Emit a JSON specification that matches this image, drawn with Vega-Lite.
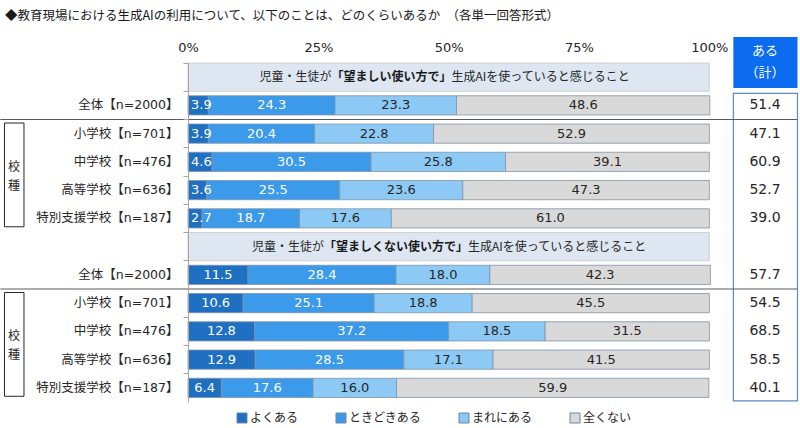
{
  "$schema": "https://vega.github.io/schema/vega-lite/v6.json",
  "width": 610,
  "height": 339,
  "autosize": "none",
  "padding": {"left": 188, "top": 63, "right": 2, "bottom": 26},
  "background": "white",
  "config": {"view": {"stroke": null}, "font": "Noto Sans CJK JP"},
  "title": {
    "text": "◆教育現場における生成AIの利用について、以下のことは、どのくらいあるか　（各単一回答形式）",
    "anchor": "start", "frame": "group", "dx": -183, "offset": 15,
    "fontSize": 12.5, "font": "Noto Sans CJK JP", "fontWeight": "normal", "color": "#1a1a1a"
  },
  "datasets": {
    "segs": [
      {"row": "A1|全体【n=2000】", "cat": "よくある", "k": 1, "value": 3.9},
      {"row": "A1|全体【n=2000】", "cat": "ときどきある", "k": 2, "value": 24.3},
      {"row": "A1|全体【n=2000】", "cat": "まれにある", "k": 3, "value": 23.3},
      {"row": "A1|全体【n=2000】", "cat": "全くない", "k": 4, "value": 48.6},
      {"row": "B1|小学校【n=701】", "cat": "よくある", "k": 1, "value": 3.9},
      {"row": "B1|小学校【n=701】", "cat": "ときどきある", "k": 2, "value": 20.4},
      {"row": "B1|小学校【n=701】", "cat": "まれにある", "k": 3, "value": 22.8},
      {"row": "B1|小学校【n=701】", "cat": "全くない", "k": 4, "value": 52.9},
      {"row": "C1|中学校【n=476】", "cat": "よくある", "k": 1, "value": 4.6},
      {"row": "C1|中学校【n=476】", "cat": "ときどきある", "k": 2, "value": 30.5},
      {"row": "C1|中学校【n=476】", "cat": "まれにある", "k": 3, "value": 25.8},
      {"row": "C1|中学校【n=476】", "cat": "全くない", "k": 4, "value": 39.1},
      {"row": "D1|高等学校【n=636】", "cat": "よくある", "k": 1, "value": 3.6},
      {"row": "D1|高等学校【n=636】", "cat": "ときどきある", "k": 2, "value": 25.5},
      {"row": "D1|高等学校【n=636】", "cat": "まれにある", "k": 3, "value": 23.6},
      {"row": "D1|高等学校【n=636】", "cat": "全くない", "k": 4, "value": 47.3},
      {"row": "E1|特別支援学校【n=187】", "cat": "よくある", "k": 1, "value": 2.7},
      {"row": "E1|特別支援学校【n=187】", "cat": "ときどきある", "k": 2, "value": 18.7},
      {"row": "E1|特別支援学校【n=187】", "cat": "まれにある", "k": 3, "value": 17.6},
      {"row": "E1|特別支援学校【n=187】", "cat": "全くない", "k": 4, "value": 61.0},
      {"row": "A2|全体【n=2000】", "cat": "よくある", "k": 1, "value": 11.5},
      {"row": "A2|全体【n=2000】", "cat": "ときどきある", "k": 2, "value": 28.4},
      {"row": "A2|全体【n=2000】", "cat": "まれにある", "k": 3, "value": 18.0},
      {"row": "A2|全体【n=2000】", "cat": "全くない", "k": 4, "value": 42.3},
      {"row": "B2|小学校【n=701】", "cat": "よくある", "k": 1, "value": 10.6},
      {"row": "B2|小学校【n=701】", "cat": "ときどきある", "k": 2, "value": 25.1},
      {"row": "B2|小学校【n=701】", "cat": "まれにある", "k": 3, "value": 18.8},
      {"row": "B2|小学校【n=701】", "cat": "全くない", "k": 4, "value": 45.5},
      {"row": "C2|中学校【n=476】", "cat": "よくある", "k": 1, "value": 12.8},
      {"row": "C2|中学校【n=476】", "cat": "ときどきある", "k": 2, "value": 37.2},
      {"row": "C2|中学校【n=476】", "cat": "まれにある", "k": 3, "value": 18.5},
      {"row": "C2|中学校【n=476】", "cat": "全くない", "k": 4, "value": 31.5},
      {"row": "D2|高等学校【n=636】", "cat": "よくある", "k": 1, "value": 12.9},
      {"row": "D2|高等学校【n=636】", "cat": "ときどきある", "k": 2, "value": 28.5},
      {"row": "D2|高等学校【n=636】", "cat": "まれにある", "k": 3, "value": 17.1},
      {"row": "D2|高等学校【n=636】", "cat": "全くない", "k": 4, "value": 41.5},
      {"row": "E2|特別支援学校【n=187】", "cat": "よくある", "k": 1, "value": 6.4},
      {"row": "E2|特別支援学校【n=187】", "cat": "ときどきある", "k": 2, "value": 17.6},
      {"row": "E2|特別支援学校【n=187】", "cat": "まれにある", "k": 3, "value": 16.0},
      {"row": "E2|特別支援学校【n=187】", "cat": "全くない", "k": 4, "value": 59.9}
    ],
    "totals": [
      {"row": "A1|全体【n=2000】", "total": 51.4},
      {"row": "B1|小学校【n=701】", "total": 47.1},
      {"row": "C1|中学校【n=476】", "total": 60.9},
      {"row": "D1|高等学校【n=636】", "total": 52.7},
      {"row": "E1|特別支援学校【n=187】", "total": 39.0},
      {"row": "A2|全体【n=2000】", "total": 57.7},
      {"row": "B2|小学校【n=701】", "total": 54.5},
      {"row": "C2|中学校【n=476】", "total": 68.5},
      {"row": "D2|高等学校【n=636】", "total": 58.5},
      {"row": "E2|特別支援学校【n=187】", "total": 40.1}
    ]
  },
  "encoding": {
    "y": {
      "field": "row", "type": "nominal", "title": null,
      "scale": {
        "domain": ["H1|", "A1|全体【n=2000】", "B1|小学校【n=701】", "C1|中学校【n=476】", "D1|高等学校【n=636】", "E1|特別支援学校【n=187】", "H2|", "A2|全体【n=2000】", "B2|小学校【n=701】", "C2|中学校【n=476】", "D2|高等学校【n=636】", "E2|特別支援学校【n=187】"],
        "paddingInner": 0, "paddingOuter": 0
      },
      "axis": {
        "labelExpr": "split(datum.value, '|')[1]",
        "bandPosition": 0, "tickSize": 5, "tickColor": "#a6a6a6", "domainColor": "#a6a6a6",
        "labelPadding": 5, "labelFontSize": 12.5, "labelFont": "DejaVu Sans, Noto Sans CJK JP",
        "labelColor": "#262626", "labelLimit": 300, "grid": false
      }
    }
  },
  "layer": [
    {
      "data": {"values": [{"row": "H1|"}, {"row": "H2|"}]},
      "mark": {"type": "rect", "fill": "#dde6f1", "stroke": "#c9c9c9", "strokeWidth": 0.8},
      "encoding": {
        "x": {"datum": 0, "type": "quantitative", "title": null, "scale": {"domain": [0, 117], "nice": false, "zero": false}},
        "x2": {"datum": 100}
      }
    },
    {
      "data": {"values": [{"row": "A1|全体【n=2000】", "row2": "E2|特別支援学校【n=187】"}]},
      "mark": {"type": "rect", "fill": "white", "stroke": "#5b8ac5", "strokeWidth": 1.2, "yOffset": -12.1, "y2Offset": 12.9},
      "encoding": {
        "x": {"datum": 104.6, "type": "quantitative", "title": null, "scale": {"domain": [0, 117], "nice": false, "zero": false}},
        "x2": {"datum": 116.9},
        "y2": {"field": "row2"}
      }
    },
    {
      "data": {"values": [{"row": "H1|", "row2": "H1|"}]},
      "mark": {"type": "rect", "fill": "#0b6cf0", "yOffset": -40.1, "y2Offset": 10.9},
      "encoding": {
        "x": {"datum": 104.6, "type": "quantitative", "title": null, "scale": {"domain": [0, 117], "nice": false, "zero": false}},
        "x2": {"datum": 116.9},
        "y2": {"field": "row2"}
      }
    },
    {
      "data": {"name": "segs"},
      "mark": {"type": "bar", "height": {"band": 0.68}, "stroke": "#7f93aa", "strokeWidth": 0.8},
      "encoding": {
        "x": {
          "field": "value", "type": "quantitative", "stack": "zero", "title": null,
          "scale": {"domain": [0, 117], "nice": false, "zero": false},
          "axis": {"orient": "top", "values": [0, 25, 50, 75, 100], "labelExpr": "datum.value + '%'", "domain": false, "ticks": false, "grid": false, "labelPadding": 9, "labelFontSize": 13, "labelFont": "DejaVu Sans", "labelColor": "#262626", "labelFlush": false}
        },
        "color": {
          "field": "cat", "type": "nominal",
          "scale": {"domain": ["よくある", "ときどきある", "まれにある", "全くない"], "range": ["#1f6fc2", "#3b9ae9", "#8ccaf5", "#d9d9d9"]},
          "legend": {"orient": "none", "legendX": 48, "legendY": 349, "direction": "horizontal", "columns": 4, "columnPadding": 35, "title": null, "symbolType": "square", "symbolSize": 100, "labelFontSize": 12, "labelFont": "Noto Sans CJK JP", "labelColor": "#262626", "labelOffset": 2, "symbolStrokeWidth": 1, "symbolStrokeColor": "#6f86a3"}
        },
        "order": {"field": "k", "type": "quantitative"}
      }
    },
    {
      "data": {"name": "segs"},
      "mark": {"type": "text", "font": "DejaVu Sans", "fontSize": 13, "baseline": "middle"},
      "encoding": {
        "x": {"field": "value", "type": "quantitative", "stack": "zero", "bandPosition": 0.5, "title": null, "scale": {"domain": [0, 117], "nice": false, "zero": false}},
        "detail": {"field": "cat"},
        "order": {"field": "k", "type": "quantitative"},
        "text": {"field": "value", "type": "quantitative", "format": ".1f", "condition": {"test": "datum.k == 1 && datum.value < 5", "value": ""}},
        "color": {"condition": {"test": "datum.k <= 2", "value": "#ffffff"}, "value": "#262626"}
      }
    },
    {
      "data": {"name": "segs"},
      "mark": {"type": "text", "font": "DejaVu Sans", "fontSize": 13, "baseline": "middle", "align": "left", "dx": 3, "color": "#ffffff"},
      "encoding": {
        "x": {"field": "value", "type": "quantitative", "stack": "zero", "bandPosition": 0, "title": null, "scale": {"domain": [0, 117], "nice": false, "zero": false}},
        "detail": {"field": "cat"},
        "order": {"field": "k", "type": "quantitative"},
        "text": {"condition": {"test": "datum.k == 1 && datum.value < 5", "field": "value", "type": "quantitative", "format": ".1f"}, "value": ""}
      }
    },
    {
      "data": {"name": "totals"},
      "mark": {"type": "text", "font": "DejaVu Sans", "fontSize": 14, "color": "#262626", "baseline": "middle"},
      "encoding": {
        "x": {"datum": 110.67, "type": "quantitative", "title": null, "scale": {"domain": [0, 117], "nice": false, "zero": false}},
        "text": {"field": "total", "type": "quantitative", "format": ".1f"}
      }
    },
    {
      "data": {"values": [{"row": "B1|小学校【n=701】"}, {"row": "B2|小学校【n=701】"}]},
      "mark": {"type": "rule", "color": "#595959", "strokeWidth": 1},
      "encoding": {
        "x": {"datum": -36, "type": "quantitative", "title": null, "scale": {"domain": [0, 117], "nice": false, "zero": false}},
        "x2": {"datum": 116.9},
        "y": {"field": "row", "type": "nominal", "title": null, "bandPosition": 0}
      }
    },
    {
      "data": {"values": [{"row": "B1|小学校【n=701】", "row2": "E1|特別支援学校【n=187】"}, {"row": "B2|小学校【n=701】", "row2": "E2|特別支援学校【n=187】"}]},
      "mark": {"type": "rect", "fill": "transparent", "stroke": "#262626", "strokeWidth": 1, "yOffset": -10.6, "y2Offset": 8.4},
      "encoding": {
        "x": {"datum": -35.2, "type": "quantitative", "title": null, "scale": {"domain": [0, 117], "nice": false, "zero": false}},
        "x2": {"datum": -31.46},
        "y2": {"field": "row2"}
      }
    },
    {
      "data": {"values": [{"row": "D1|高等学校【n=636】", "t": "校"}, {"row": "D2|高等学校【n=636】", "t": "校"}]},
      "mark": {"type": "text", "fontSize": 12, "baseline": "middle", "color": "#262626", "dy": -9.5},
      "encoding": {
        "x": {"datum": -33.37, "type": "quantitative", "title": null, "scale": {"domain": [0, 117], "nice": false, "zero": false}},
        "y": {"field": "row", "type": "nominal", "title": null, "bandPosition": 0},
        "text": {"field": "t"}
      }
    },
    {
      "data": {"values": [{"row": "D1|高等学校【n=636】", "t": "種"}, {"row": "D2|高等学校【n=636】", "t": "種"}]},
      "mark": {"type": "text", "fontSize": 12, "baseline": "middle", "color": "#262626", "dy": 9.5},
      "encoding": {
        "x": {"datum": -33.37, "type": "quantitative", "title": null, "scale": {"domain": [0, 117], "nice": false, "zero": false}},
        "y": {"field": "row", "type": "nominal", "title": null, "bandPosition": 0},
        "text": {"field": "t"}
      }
    },
    {
      "data": {"values": [{"row": "H1|", "t": "ある"}]},
      "mark": {"type": "text", "fontSize": 13, "baseline": "middle", "color": "#ffffff", "dy": -26},
      "encoding": {
        "x": {"datum": 110.67, "type": "quantitative", "title": null, "scale": {"domain": [0, 117], "nice": false, "zero": false}},
        "text": {"field": "t"}
      }
    },
    {
      "data": {"values": [{"row": "H1|", "t": "（計）"}]},
      "mark": {"type": "text", "fontSize": 13, "baseline": "middle", "color": "#ffffff", "dy": -4},
      "encoding": {
        "x": {"datum": 110.67, "type": "quantitative", "title": null, "scale": {"domain": [0, 117], "nice": false, "zero": false}},
        "text": {"field": "t"}
      }
    },
    {
      "data": {"values": [{"row": "H1|", "t": "児童・生徒が"}]},
      "mark": {"type": "text", "fontSize": 12, "align": "right", "baseline": "middle", "color": "#262626"},
      "encoding": {"x": {"datum": 27.52, "type": "quantitative", "title": null, "scale": {"domain": [0, 117], "nice": false, "zero": false}}, "text": {"field": "t"}}
    },
    {
      "data": {"values": [{"row": "H1|", "t": "「望ましい使い方で」"}]},
      "mark": {"type": "text", "fontSize": 12, "fontWeight": "bold", "align": "left", "baseline": "middle", "color": "#1a1a1a"},
      "encoding": {"x": {"datum": 27.52, "type": "quantitative", "title": null, "scale": {"domain": [0, 117], "nice": false, "zero": false}}, "text": {"field": "t"}}
    },
    {
      "data": {"values": [{"row": "H1|", "t": "生成AIを使っていると感じること"}]},
      "mark": {"type": "text", "fontSize": 12, "align": "left", "baseline": "middle", "color": "#262626"},
      "encoding": {"x": {"datum": 50.54, "type": "quantitative", "title": null, "scale": {"domain": [0, 117], "nice": false, "zero": false}}, "text": {"field": "t"}}
    },
    {
      "data": {"values": [{"row": "H2|", "t": "児童・生徒が"}]},
      "mark": {"type": "text", "fontSize": 12, "align": "right", "baseline": "middle", "color": "#262626"},
      "encoding": {"x": {"datum": 26.09, "type": "quantitative", "title": null, "scale": {"domain": [0, 117], "nice": false, "zero": false}}, "text": {"field": "t"}}
    },
    {
      "data": {"values": [{"row": "H2|", "t": "「望ましくない使い方で」"}]},
      "mark": {"type": "text", "fontSize": 12, "fontWeight": "bold", "align": "left", "baseline": "middle", "color": "#1a1a1a"},
      "encoding": {"x": {"datum": 26.09, "type": "quantitative", "title": null, "scale": {"domain": [0, 117], "nice": false, "zero": false}}, "text": {"field": "t"}}
    },
    {
      "data": {"values": [{"row": "H2|", "t": "生成AIを使っていると感じること"}]},
      "mark": {"type": "text", "fontSize": 12, "align": "left", "baseline": "middle", "color": "#262626"},
      "encoding": {"x": {"datum": 53.71, "type": "quantitative", "title": null, "scale": {"domain": [0, 117], "nice": false, "zero": false}}, "text": {"field": "t"}}
    }
  ]
}
